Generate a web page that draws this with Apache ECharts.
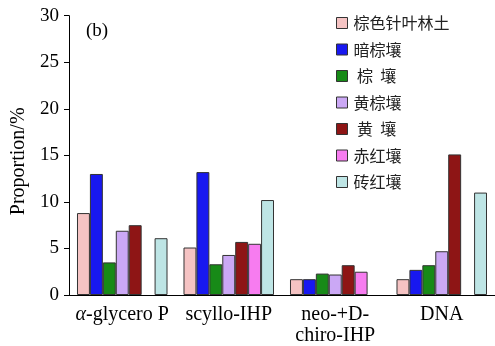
<!DOCTYPE html>
<html><head><meta charset="utf-8">
<script src="https://cdn.jsdelivr.net/npm/echarts@6/dist/echarts.min.js"></script>
<style>html,body{margin:0;padding:0;background:#fff}#c{width:495px;height:346px}</style>
</head><body><div id="c"></div>
<script>
const categories = ['α-glycero P', 'scyllo-IHP', 'neo-+D-\nchiro-IHP', 'DNA'];
const seriesNames = ['棕色针叶林土', '暗棕壤', ' 棕  壤', '黄棕壤', ' 黄  壤', '赤红壤', '砖红壤'];
const s1 = [8.8, 5.1, 1.7, 1.7];
const s2 = [13.0, 13.2, 1.7, 2.7];
const s3 = [3.5, 3.3, 2.3, 3.2];
const s4 = [6.9, 4.3, 2.2, 4.7];
const s5 = [7.5, 5.7, 3.2, 15.1];
const s6 = [null, 5.5, 2.5, null];
const s7 = [6.1, 10.2, null, 11.0];
const yTicks = [0, 5, 10, 15, 20, 25, 30];

const allData = [s1, s2, s3, s4, s5, s6, s7];
const colors = ['#F5C3C3', '#1818F0', '#178A17', '#CBA8F5', '#8E1515', '#F77CF0', '#BEE5E5'];
const serif = "'Liberation Serif','Times New Roman',serif";

const chart = echarts.init(document.getElementById('c'), null, {renderer: 'canvas'});
chart.setOption({
  animation: false,
  backgroundColor: '#fff',
  grid: {left: 69, top: 15.7, width: 431, bottom: 48.3, containLabel: false},
  graphic: [{type: 'text', left: 86, top: 22, style: {text: '(b)', font: '19px ' + serif, fill: '#000'}}],
  legend: {
    orient: 'vertical', left: 336, top: 15, padding: 0,
    itemWidth: 11, itemHeight: 11, itemGap: 10.5,
    data: seriesNames,
    icon: 'rect',
    itemStyle: {borderColor: '#333', borderWidth: 1},
    textStyle: {fontFamily: "'Noto Sans CJK SC'", fontSize: 16, color: '#222', lineHeight: 16, padding: [0,0,0,1]}
  },
  xAxis: {
    type: 'category', data: categories,
    axisLine: {show: true, lineStyle: {color: '#000', width: 1}},
    axisTick: {show: false},
    axisLabel: {
      color: '#000', fontFamily: serif, fontSize: 20, margin: 9, lineHeight: 21, interval: 0,
      formatter: v => v.startsWith('α') ? '{i|α}' + v.slice(1) : v,
      rich: {i: {fontStyle: 'italic', fontFamily: serif, fontSize: 20, lineHeight: 21, color: '#000'}}
    }
  },
  yAxis: {
    type: 'value', min: 0, max: 30, interval: 5,
    name: 'Proportion/%', nameLocation: 'middle', nameGap: 37,
    nameTextStyle: {fontFamily: serif, fontSize: 20, color: '#000', padding: [0, 12, 0, 0]},
    axisLine: {show: true, lineStyle: {color: '#000', width: 1}},
    axisTick: {show: true, inside: false, length: 5, lineStyle: {color: '#000'}},
    axisLabel: {color: '#000', fontFamily: serif, fontSize: 19, margin: 10,
      formatter: v => yTicks.includes(v) ? String(v) : ''},
    splitLine: {show: false}
  },
  series: allData.map((d, i) => ({
    name: seriesNames[i], type: 'bar', data: d,
    barGap: '0%', barCategoryGap: '15%',
    itemStyle: {color: colors[i], borderColor: '#333', borderWidth: 1}
  }))
});
</script></body></html>
